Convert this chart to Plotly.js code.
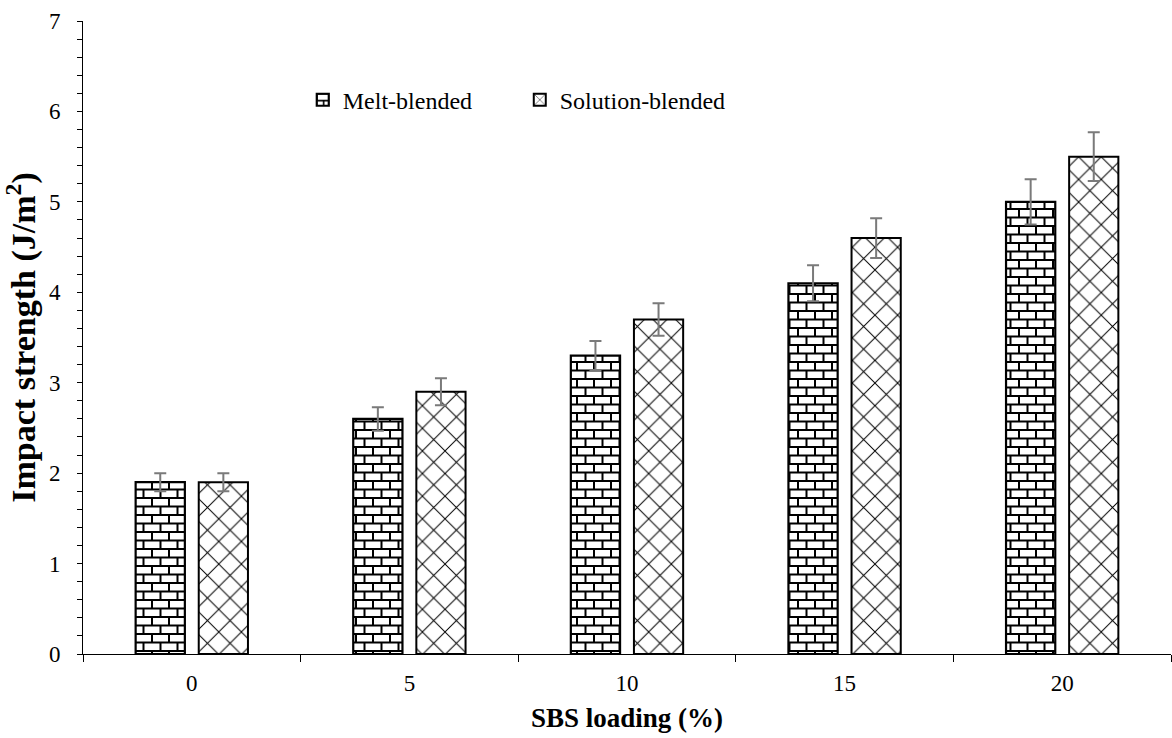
<!DOCTYPE html>
<html>
<head>
<meta charset="utf-8">
<script src="https://cdn.plot.ly/plotly-3.0.1.min.js"></script>
<style>
  html, body { margin: 0; padding: 0; background: #fff; }
  #chart { width: 1172px; height: 738px; }
</style>
</head>
<body>
<div id="chart"></div>
<script>
// SBS loading (%) categories
const loading = ['0', '5', '10', '15', '20'];

// Impact strength (J/m²) and standard deviations
const meltBlended = [1.9, 2.6, 3.3, 4.1, 5.0];
const meltError = [0.1, 0.13, 0.16, 0.2, 0.25];
const solutionBlended = [1.9, 2.9, 3.7, 4.6, 5.5];
const solutionError = [0.1, 0.15, 0.18, 0.22, 0.27];

const serif = 'Liberation Serif, Times New Roman, serif';

const errStyle = (arr) => ({
  type: 'data', array: arr, visible: true,
  color: '#7a7a7a', thickness: 2, width: 6
});

const traces = [
  {
    type: 'bar', name: 'Melt-blended', x: loading, y: meltBlended,
    error_y: errStyle(meltError),
    marker: {
      color: '#ffffff',
      line: { color: '#000000', width: 2.2 },
      pattern: { shape: '+', fgcolor: '#000000', bgcolor: '#ffffff', size: 17, solidity: 0.2 }
    }
  },
  {
    type: 'bar', name: 'Solution-blended', x: loading, y: solutionBlended,
    error_y: errStyle(solutionError),
    marker: {
      color: '#ffffff',
      line: { color: '#000000', width: 2 },
      pattern: { shape: 'x', fgcolor: '#000000', bgcolor: '#ffffff', size: 16, solidity: 0.12 }
    }
  }
];

const layout = {
  width: 1172, height: 738,
  margin: { l: 83, r: 1, t: 21, b: 84 },
  paper_bgcolor: '#ffffff', plot_bgcolor: '#ffffff',
  font: { family: serif, size: 23, color: '#000000' },
  barmode: 'group', bargap: 0.42, bargroupgap: 0.22,
  showlegend: true,
  legend: {
    orientation: 'h', x: 0.202, y: 0.875, xanchor: 'left', yanchor: 'middle',
    entrywidth: 172, entrywidthmode: 'pixels', itemwidth: 30,
    font: { family: serif, size: 24, color: '#000000' }, bgcolor: 'rgba(0,0,0,0)'
  },
  xaxis: {
    type: 'category', tickson: 'boundaries',
    showline: true, linecolor: '#000000', linewidth: 1,
    ticks: 'outside', ticklen: 7, tickcolor: '#000000', tickwidth: 1,
    ticklabelstandoff: 8,
    tickfont: { family: serif, size: 23, color: '#000000' },
    showgrid: false, zeroline: false,
    title: { text: '<b>SBS loading (%)</b>', font: { family: serif, size: 27, color: '#000000' }, standoff: 13 }
  },
  yaxis: {
    range: [0, 7], dtick: 1, tick0: 0,
    showline: true, linecolor: '#000000', linewidth: 1,
    ticks: 'outside', ticklen: 5, tickcolor: '#000000', tickwidth: 1,
    ticklabelstandoff: 12,
    tickfont: { family: serif, size: 23, color: '#000000' },
    minor: { dtick: 0.2, ticks: 'outside', ticklen: 5, tickcolor: '#000000', showgrid: false },
    showgrid: false, zeroline: false,
    title: { text: '<b>Impact strength (J/m<sup>2</sup>)</b>', font: { family: serif, size: 34, color: '#000000' }, standoff: 6 }
  }
};

// Replace the melt-blended fill with a horizontal brick tile
function brickPattern(gd) {
  const ns = 'http://www.w3.org/2000/svg';
  const ids = new Set();
  const collect = (els) => els.forEach(el => {
    const f = el.style.fill || el.getAttribute('fill') || '';
    const m = f.match(/#([^'")]+)/);
    if (m) ids.add(m[1]);
  });
  const barTraces = gd.querySelectorAll('.barlayer .trace');
  if (barTraces[0]) collect(barTraces[0].querySelectorAll('.point path'));
  const legendItems = gd.querySelectorAll('.legend .traces');
  if (legendItems[0]) collect(legendItems[0].querySelectorAll('.legendpoints path'));

  ids.forEach(id => {
    const pat = document.getElementById(id);
    if (!pat) return;
    const w = 17, h = 17;
    pat.setAttribute('width', w);
    pat.setAttribute('height', h);
    pat.setAttribute('patternUnits', 'userSpaceOnUse');
    while (pat.firstChild) pat.removeChild(pat.firstChild);
    const bg = document.createElementNS(ns, 'rect');
    bg.setAttribute('width', w); bg.setAttribute('height', h);
    bg.setAttribute('fill', '#ffffff');
    pat.appendChild(bg);
    const p = document.createElementNS(ns, 'path');
    p.setAttribute('d', 'M0,1H17M0,9.5H17M1,1V9.5M9.5,9.5V17M9.5,0V1');
    p.setAttribute('stroke', '#000000');
    p.setAttribute('stroke-width', '2');
    p.setAttribute('fill', 'none');
    pat.appendChild(p);
  });
}

Plotly.newPlot('chart', traces, layout, { staticPlot: true, displayModeBar: false })
  .then(gd => brickPattern(gd));
</script>
</body>
</html>
